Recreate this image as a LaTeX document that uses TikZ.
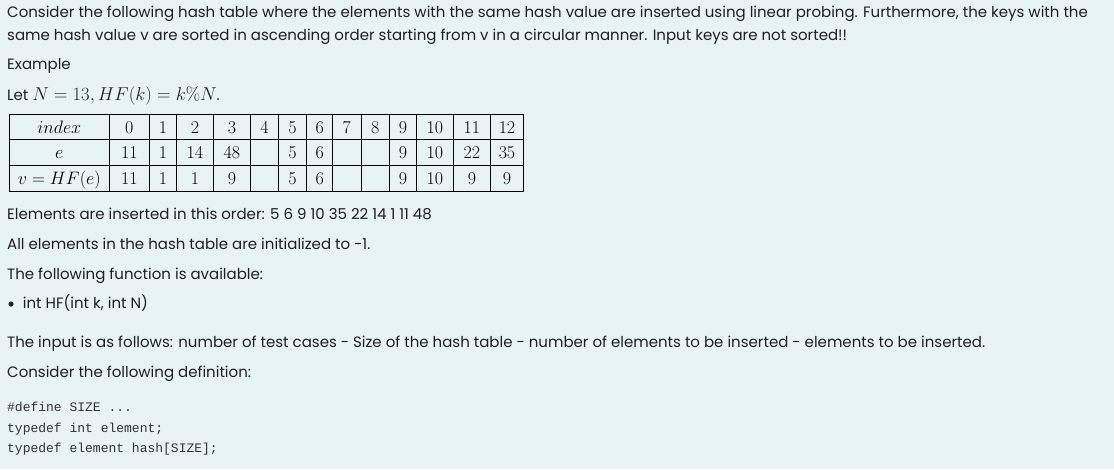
\RequirePackage{fix-cm}
\documentclass[tikz,border=0pt]{standalone}
\usepackage[no-math]{fontspec}
\setmainfont{Poppins}
\setmonofont{Liberation Mono}
\definecolor{bg}{HTML}{E8F3F6}
\definecolor{txt}{HTML}{1F1F24}
\definecolor{code}{HTML}{333338}
\begin{document}
\begin{tikzpicture}[x=1pt,y=-1pt,
  para/.style={anchor=base west,inner sep=0pt,text=txt,font=\fontsize{15}{18}\selectfont},
  codeline/.style={anchor=base west,inner sep=0pt,text=code,font=\fontsize{13}{15}\ttfamily},
  cell/.style={anchor=base,inner sep=0pt,text=black,font=\fontsize{18}{20}\selectfont},
  grid/.style={draw=black,line width=0.9pt}]
\fill[bg] (0,0) rectangle (1114,469);
\useasboundingbox (0,0) rectangle (1114,469);

\node[para] (l1) at (7,17.3) {Consider the following hash table where the elements with the same hash value are inserted using linear probing. Furthermore, the keys with the};
\node[para] (l2) at (7,40) {same hash value v are sorted in ascending order starting from v in a circular manner. Input keys are not sorted!!};
\node[para] (ex) at (7,69) {Example};
\node[para] (let) at (7,100) {Let {\fontsize{18.6}{20}\selectfont$N=13, HF(k)=k\%N.$}};

% table grid
\draw[grid] (9.3,114) rectangle (523.3,191.3);
\draw[grid] (9.3,139.7) -- (523.3,139.7);
\draw[grid] (9.3,165) -- (523.3,165);
\foreach \xx in {109.3,149.3,176.7,213.3,250.7,278.3,306.7,332.7,361,389.3,416.7,453.3,490.7}
  \draw[grid] (\xx,114) -- (\xx,191.3);

% header column
\node[cell] (h0) at (59.3,133) {$index$};
\node[cell] (h1) at (59.3,158.5) {$e$};
\node[cell] (h2) at (59.3,184.5) {$v=HF(e)$};

% columns
\def\cols{129.3/0/11/11, 163/1/1/1, 195/2/14/1, 232/3/48/9, 264.5/4//, 292.5/5/5/5, 319.7/6/6/6, 346.85/7//, 375.15/8//, 403/9/9/9, 435/10/10/10, 472/11/22/9, 507/12/35/9}
\foreach \cx/\ia/\ea/\va [count=\i] in \cols {
  \node[cell] (i\i) at (\cx,133) {$\ia$};
  \node[cell] (e\i) at (\cx,158.5) {$\ea$};
  \node[cell] (v\i) at (\cx,184.5) {$\va$};
}

\node[para] (ins) at (7,219) {Elements are inserted in this order: 5 6 9 10 35 22 14 1 11 48};
\node[para] (all) at (7,249) {All elements in the hash table are initialized to -1.};
\node[para] (fun) at (7,279) {The following function is available:};
\fill[txt] (11,304) circle (2.6pt);
\node[para] (hf) at (22.7,308.5) {int HF(int k, int N)};
\node[para] (inp) at (7,347) {The input is as follows: number of test cases - Size of the hash table - number of elements to be inserted - elements to be inserted.};
\node[para] (def) at (7,377) {Consider the following definition:};

\node[codeline] (c1) at (7,411.3) {\#define SIZE ...};
\node[codeline] (c2) at (7,432.2) {typedef int element;};
\node[codeline] (c3) at (7,452.5) {typedef element hash[SIZE];};
\end{tikzpicture}
\end{document}
